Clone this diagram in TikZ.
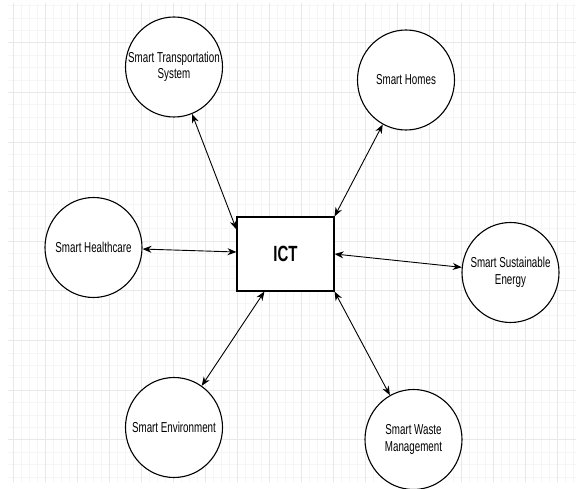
\documentclass[tikz,border=0pt]{standalone}
\usepackage{fontspec}
\setmainfont[FakeStretch=0.68]{Liberation Sans}
\usetikzlibrary{arrows.meta,calc,shapes.geometric}
\begin{document}
\begin{tikzpicture}[x=1pt,y=-1pt,
  minorline/.style={line width=0.6pt,black!3.5},
  majorline/.style={line width=0.8pt,black!9},
  area/.style={ellipse,draw,fill=white,line width=1.1pt,minimum width=97pt,minimum height=100pt,
    inner sep=0pt,label={[align=center,font=\fontsize{14.4}{16.5}\selectfont]center:#1}},
  hub/.style={rectangle,draw,fill=white,line width=1.1pt,minimum width=97pt,minimum height=74pt,
    font=\fontsize{22}{26}\selectfont\bfseries},
  link/.style={line width=0.9pt,{Stealth[length=9pt,width=7pt]}-{Stealth[length=9pt,width=7pt]}}]
\useasboundingbox[fill=white] (0,0) rectangle (576,489);
\foreach \x in {13,21,...,573} \draw[minorline] (\x,3) -- (\x,482);
\foreach \y in {5.6,18,...,480} \draw[minorline] (8,\y) -- (576,\y);
\foreach \x in {13,45,...,573} \draw[majorline] (\x,3) -- (\x,482);
\foreach \y in {42.8,92.4,...,480} \draw[majorline] (8,\y) -- (576,\y);
\node[hub] (ict) at (285.5,254) {ICT};
\node[area={Smart Transportation\\System}] (trans) at (174,67) {};
\node[area={Smart Homes}] (homes) at (406,80) {};
\node[area={Smart Healthcare}] (health) at (93.5,247.5) {};
\node[area={Smart Sustainable\\Energy}] (energy) at (510.5,272.5) {};
\node[area={Smart Environment}] (env) at (174,427.5) {};
\node[area={Smart Waste\\Management}] (waste) at (413.5,439.5) {};
\draw[link] ($(ict.north west)+(0,13)$) -- (trans);
\draw[link] (ict.north east) -- (homes);
\draw[link] ($(ict.west)+(0,-2)$) -- (health);
\draw[link] (ict.east) -- (energy);
\draw[link] ($(ict.south west)+(28,0)$) -- (env);
\draw[link] (ict.south east) -- (waste);
\end{tikzpicture}
\end{document}
